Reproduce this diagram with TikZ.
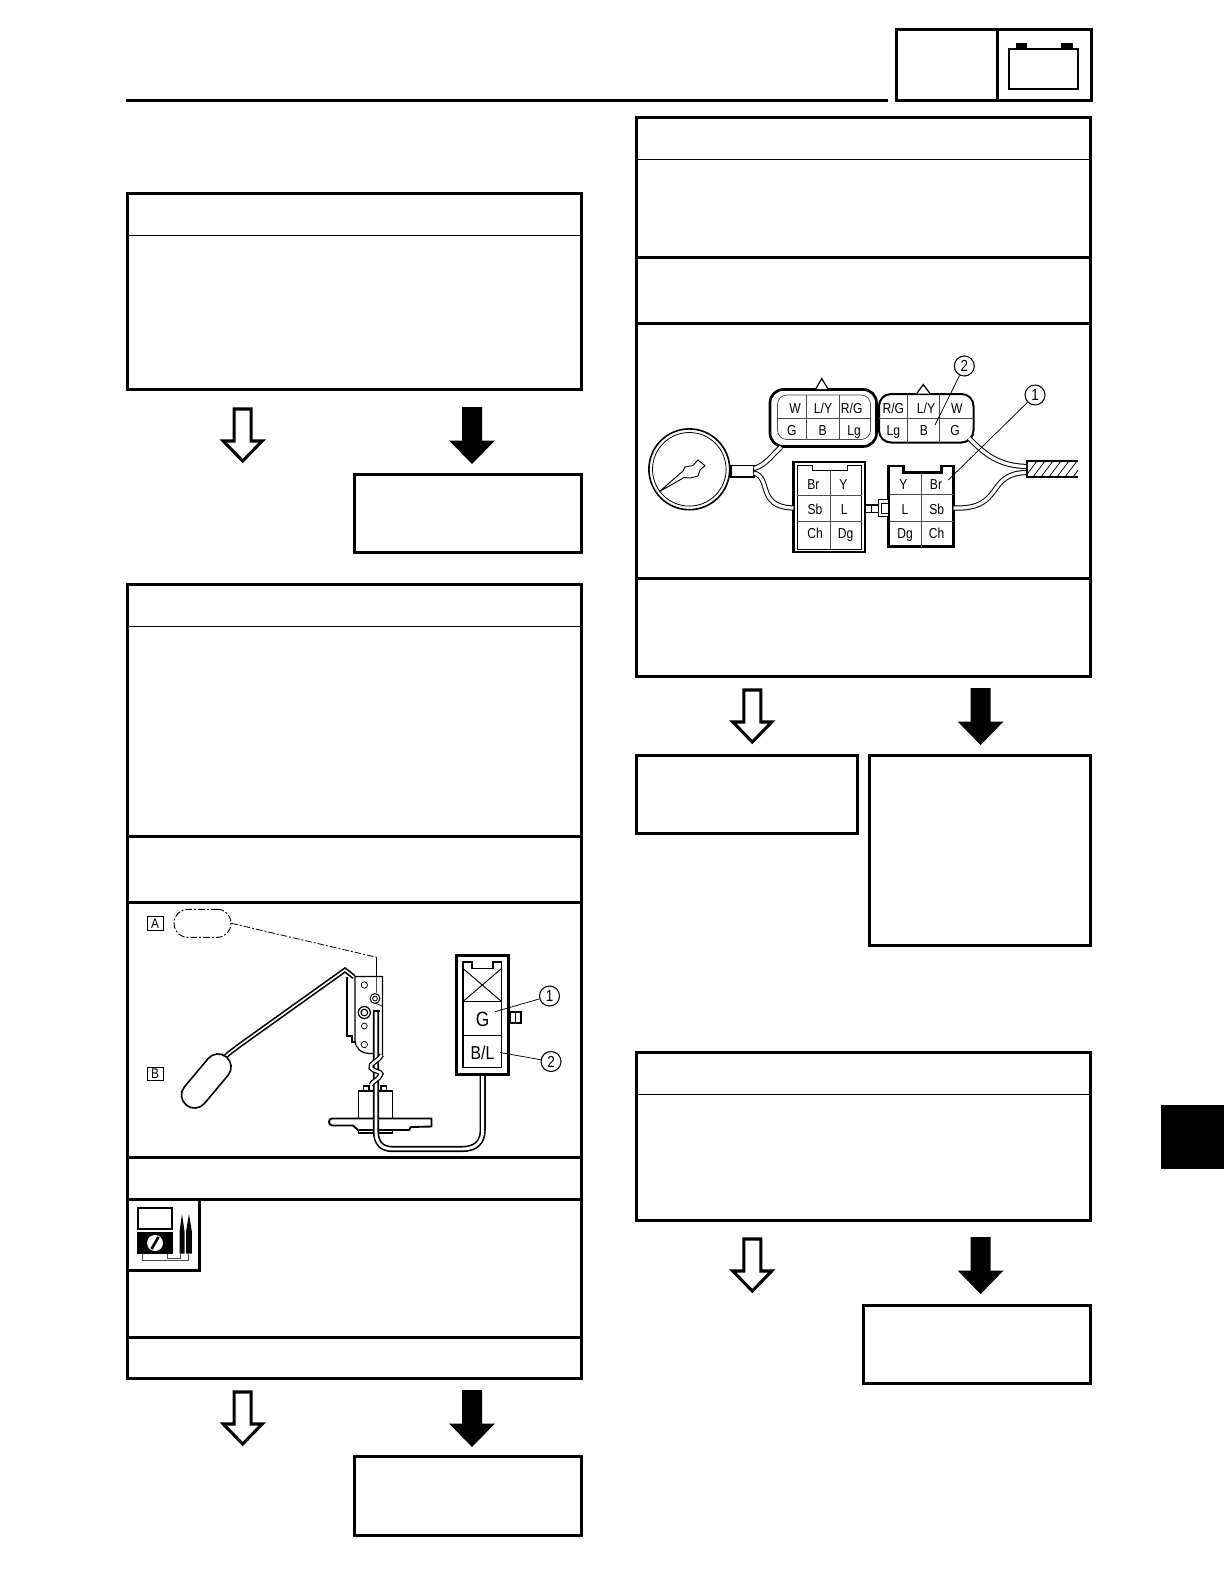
\documentclass[tikz,border=0pt]{standalone}
\usepackage{fontspec}
\setmainfont{Liberation Sans}
\newfontfamily\narrowfont[FakeStretch=0.84]{Liberation Sans}
\usetikzlibrary{patterns}
\tikzset{
  heavy/.style={draw=black,line width=2.25pt},
  flowbox/.style={draw=black,line width=2.25pt,fill=white,rectangle,inner sep=0pt,outer sep=0pt},
  rule/.style={draw=black,line width=2.25pt},
  hair/.style={draw=black,line width=0.7pt},
  grid/.style={draw=black!70,line width=0.55pt},
  part/.style={draw=black,line width=1.1pt,fill=white},
  fineline/.style={draw=black,line width=0.55pt},
  wire/.style={draw=black,line width=0.75pt,double=white,double distance=2.4pt},
  fatwire/.style={draw=black,line width=1.2pt,double=white,double distance=2.2pt},
  lbl/.style={inner sep=0pt,text height=7.7pt,text depth=0pt,font=\narrowfont\fontsize{10.8pt}{12pt}\selectfont},
  biglbl/.style={inner sep=0pt,text height=11pt,text depth=0pt,font=\narrowfont\fontsize{15.5pt}{17pt}\selectfont},
  midlbl/.style={inner sep=0pt,text height=10pt,text depth=0pt,font=\narrowfont\fontsize{14pt}{16pt}\selectfont},
  callout/.style={draw=black,line width=0.8pt,fill=white,circle,minimum size=15pt,inner sep=0pt,font=\narrowfont\fontsize{12pt}{13pt}\selectfont},
  tagbox/.style={draw=black,line width=0.7pt,minimum width=12pt,minimum height=10pt,inner sep=0pt,font=\narrowfont\fontsize{10.5pt}{11pt}\selectfont},
  whitearrow/.style={draw=black,line width=2.3pt,fill=white,miter limit=10},
  blackarrow/.style={fill=black},
}
% #1 name, #2 x1, #3 y1, #4 x2, #5 y2 in reference pixels
\newcommand{\flowrect}[5]{%
  \pgfmathsetmacro{\rw}{(#4-#2)*0.75}\pgfmathsetmacro{\rh}{(#5-#3)*0.75}%
  \pgfmathsetmacro{\rx}{(#2+#4)/2}\pgfmathsetmacro{\ry}{(#3+#5)/2}%
  \node[flowbox,minimum width=\rw pt,minimum height=\rh pt] (#1) at (\rx,\ry) {};}
\newcommand{\downwhite}[2]{%
  \draw[whitearrow] (#1-8.5,#2+2) -- (#1+8.5,#2+2) -- (#1+8.5,#2+34) -- (#1+19.5,#2+34) -- (#1,#2+54) -- (#1-19.5,#2+34) -- (#1-8.5,#2+34) -- cycle;}
\newcommand{\downblack}[2]{%
  \fill[blackarrow] (#1-10,#2) -- (#1+10,#2) -- (#1+10,#2+33.5) -- (#1+23,#2+33.5) -- (#1,#2+57) -- (#1-23,#2+33.5) -- (#1-10,#2+33.5) -- cycle;}
\begin{document}
\begin{tikzpicture}[x=0.75pt,y=-0.75pt]
\useasboundingbox (0,0) rectangle (1224,1584);
\fill[white] (0,0) rectangle (1224,1584);

% ---- header
\draw[rule] (126,100.5) -- (888,100.5);
\flowrect{hdr}{896}{30}{1091}{100.5}
\draw[rule] (997.5,30) -- (997.5,100.5);
\draw[draw=black,line width=1.5pt] (1009,49) rectangle (1078,89);
\fill (1016,43) rectangle (1027,49.5);
\fill (1061,43) rectangle (1073,49.5);
\fill (1161,1105) rectangle (1224,1169);

% ---- left column, first box
\flowrect{b1}{127}{193}{581}{389.5}
\draw[hair] (127,235.5) -- (581,235.5);
\downwhite{242.7}{407}
\downblack{472}{407}
\flowrect{b1r}{354.5}{474}{581}{552.5}

% ---- left column, second box
\flowrect{b2}{127}{584}{581}{1378}
\draw[hair] (127,626) -- (581,626);
\draw[rule] (127,836.5) -- (581,836.5);
\draw[rule] (127,902) -- (581,902);
\draw[rule] (127,1157) -- (581,1157);
\draw[rule] (127,1199.5) -- (581,1199.5);
\draw[rule] (127,1337) -- (581,1337);
\draw[rule] (127,1270) -- (199.5,1270) -- (199.5,1199.5);
\downwhite{242.7}{1390}
\downblack{472}{1390}
\flowrect{b2r}{354.5}{1456.5}{581}{1535}

% meter icon
\draw[draw=black,line width=1.6pt] (138,1208) rectangle (172,1229);
\fill (137,1231.5) rectangle (173,1253.5);
\fill[white] (155,1243) circle (6pt);
\draw[line width=2pt] (151.5,1249) -- (158.5,1237);
\draw[grid] (142.5,1253.5) -- (142.5,1260) -- (188.5,1260) -- (188.5,1253.5);
\draw[grid] (167,1253.5) -- (167,1258) -- (180,1258) -- (180,1253.5);
\fill (179.5,1253.5) -- (179.5,1231.5) -- (182,1214) -- (184.6,1231.5) -- (184.6,1253.5) -- cycle;
\fill (186,1253.5) -- (186,1231.5) -- (189,1214) -- (191.8,1231.5) -- (191.8,1253.5) -- cycle;

% fuel sender drawing
\node[tagbox] (tagA) at (155,923.5) {A};
\node[tagbox] (tagB) at (155,1074) {B};
\node[draw=black,line width=0.7pt,dash pattern=on 5pt off 1.5pt on 1.5pt off 1.5pt,rounded corners=10pt,minimum width=42.5pt,minimum height=21pt,inner sep=0pt] (pill) at (202.5,923.3) {};
\coordinate (leader) at (376.7,957.3);
\coordinate (leaderend) at (376.7,977);
\draw[draw=black,line width=0.6pt,dash pattern=on 5pt off 1.5pt on 1.5pt off 1.5pt] (pill.east) -- (leader);
\draw[fineline] (leader) -- (leaderend);
% bracket
\draw[part] (347,977) -- (347,1036) -- (352,1036) -- (352,1042) -- (356,1042) -- (356,977);
\draw[part,line width=0.9pt] (355,976.5) -- (382.5,976.5) -- (382.5,1056) -- (376,1053.5) -- (370,1053.5) .. controls (361,1053.5) and (355,1048) .. (355,1040) -- cycle;
\draw[grid,line width=1pt] (376.7,977) -- (376.7,993);
\draw[fineline] (375,1003) -- (382,1006);
\draw[fineline] (364.3,985) circle (2.4pt);
\draw[fineline] (364.3,1026) circle (2.2pt);
\draw[fineline] (364.3,1044.5) circle (2.4pt);
\draw[line width=0.9pt] (364.3,1012.5) circle (4.5pt);
\draw[line width=0.8pt] (364.3,1012.5) circle (2.5pt);
\draw[line width=0.7pt] (375,998.5) circle (3.7pt);
\draw[line width=0.6pt] (375,998.5) circle (1.8pt);
% float and rod
\draw[fatwire,line width=1.2pt,double distance=1.2pt] (225,1057) .. controls (230,1052) and (235,1049) .. (240,1045) -- (345,970) -- (354,977);
\node[draw=black,fill=white,line width=1.2pt,rounded corners=9.7pt,minimum width=47pt,minimum height=19.5pt,inner sep=0pt,rotate=50] (float) at (206.3,1081) {};
% pump
\draw[part,line width=0.8pt] (363.5,1086) rectangle (369,1092);
\draw[part,line width=0.8pt] (381,1086) rectangle (386.5,1092);
\draw[part] (358.5,1091) rectangle (392.5,1133);
\draw[part,line width=1.4pt] (431.5,1118.5) -- (332,1118.5) .. controls (328,1118.5) and (328,1125) .. (332,1125.5) -- (353,1125.5) -- (358,1130) -- (409,1130) -- (411,1127) -- (431.5,1126.5) -- cycle;
% cable
\coordinate (cabTop) at (376,1011);
\coordinate (cabLow) at (376,1132);
\coordinate (cabMid) at (392,1149);
\coordinate (cabMid2) at (462,1149);
\coordinate (cabRise) at (482.7,1130);
\coordinate (conBot) at (482.7,1074);
\draw[fatwire,line cap=butt] (cabTop) -- (cabLow) .. controls (376,1143) and (382,1149) .. (cabMid) -- (cabMid2) .. controls (476,1149) and (482.7,1142) .. (cabRise) -- (conBot);
\draw[line width=1.2pt] (372.5,1011) -- (379.5,1011);
\draw[fatwire,line width=1pt,double distance=1.8pt] (381.5,1055) .. controls (378,1062) and (369,1063) .. (371,1068) .. controls (374,1072) and (381,1071) .. (381,1074) .. controls (378,1081) and (372,1081) .. (371,1085);
% connector drawing
\flowrect{cG}{456.5}{955}{508.5}{1074}
\draw[draw=black,line width=0.9pt] (463,962) -- (472,962) -- (472,968.5) -- (493,968.5) -- (493,962) -- (501.5,962) -- (501.5,1067.5) -- (463,1067.5) -- cycle;
\draw[hair] (463,968.5) -- (501.5,1001.5);
\draw[hair] (501.5,968.5) -- (463,1001.5);
\draw[hair] (463,1001.5) -- (501.5,1001.5);
\draw[hair] (463,1035) -- (501.5,1035);
\draw[part,line width=0.9pt] (510,1012) rectangle (521,1023);
\draw[fineline] (515,1012) -- (515,1023);
\node[biglbl] (gG) at (482.7,1019.5) {G};
\node[midlbl] (gBL) at (482.5,1052.5) {B/L};
\coordinate (ptG) at (495,1011.7);
\coordinate (ptBL) at (500,1052.5);
\node[callout] (n1) at (549.5,996) {1};
\node[callout] (n2) at (551,1061.5) {2};
\draw[fineline] (n1) -- (ptG);
\draw[fineline] (n2) -- (ptBL);

% ---- right column, top box
\flowrect{b3}{636}{118}{1090.5}{676}
\draw[hair] (636,159) -- (1090.5,159);
\draw[rule] (636,257) -- (1090.5,257);
\draw[rule] (636,323) -- (1090.5,323);
\draw[rule] (636,578) -- (1090.5,578);
\downwhite{752.3}{688}
\downblack{980.6}{688}
\flowrect{b3l}{636}{755}{857.5}{833.5}
\flowrect{b3r}{869.5}{755}{1090.5}{945.5}

% gauge
\draw[part,line width=1.3pt] (731,465.5) rectangle (754,477);
\draw[draw=black,line width=1.2pt,fill=white] (689.3,469.3) circle (30.3pt);
\draw[draw=black,line width=0.6pt] (689.3,469.3) circle (27.6pt);
\draw[part,line width=0.7pt] (659.3,491.7) -- (683,471) -- (685,467) -- (693,465.5) -- (698,460) -- (705,465.7) -- (700,470) -- (698,476) -- (690,478) -- (684,477.5) -- cycle;
% loom
\draw[part,line width=2pt,rounded corners=10pt] (770,389.5) rectangle (876.5,446.5);
\draw[grid,rounded corners=7pt] (777.5,395) rectangle (870.5,439.5);
\draw[grid] (777.5,418.3) -- (870.5,418.3);
\draw[grid] (806.7,395) -- (806.7,439.5);
\draw[grid] (839.3,395) -- (839.3,439.5);
\draw[part,line width=0.9pt] (815.7,389) -- (821.7,378.5) -- (828,389);
\node[lbl] (l1) at (795,408.3) {W};
\node[lbl] (l2) at (823,408.3) {L/Y};
\node[lbl] (l3) at (851.7,408.3) {R/G};
\node[lbl] (l4) at (791.7,430.7) {G};
\node[lbl] (l5) at (822.7,430.7) {B};
\node[lbl] (l6) at (854,430.7) {Lg};
\draw[part,line width=1.5pt,rounded corners=9pt] (879,394) rectangle (973.5,442.5);
\draw[grid] (879,418.3) -- (973.5,418.3);
\draw[grid] (907.7,394) -- (907.7,442.5);
\draw[grid] (939.3,394) -- (939.3,442.5);
\draw[part,line width=0.9pt] (916.7,393.5) -- (923.3,384.5) -- (930,393.5);
\node[lbl] (r1) at (893.3,408.3) {R/G};
\node[lbl] (r2) at (926,408.3) {L/Y};
\node[lbl] (r3) at (956.7,408.3) {W};
\node[lbl] (r4) at (893.3,430.7) {Lg};
\node[lbl] (r5) at (924,430.7) {B};
\node[lbl] (r6) at (955,430.7) {G};
% sockets
\draw[draw=black,line width=1.6pt,fill=white] (793.5,462) rectangle (865,552);
\draw[draw=black,line width=0.7pt] (797,465) -- (812,465) -- (812,470) -- (847,470) -- (847,465) -- (861.5,465) -- (861.5,549) -- (797,549) -- cycle;
\draw[grid] (830,470) -- (830,549);
\draw[grid] (797,495) -- (861.5,495);
\draw[grid] (797,521.5) -- (861.5,521.5);
\node[lbl] (s1) at (813.3,484) {Br};
\node[lbl] (s2) at (843.3,484) {Y};
\node[lbl] (s3) at (815,509) {Sb};
\node[lbl] (s4) at (844.3,509) {L};
\node[lbl] (s5) at (815,533.3) {Ch};
\node[lbl] (s6) at (845.7,533.3) {Dg};
\draw[draw=black,line width=1.6pt,fill=white] (888.5,466) -- (903.5,466) -- (903.5,472.5) -- (941.5,472.5) -- (941.5,466) -- (953.5,466) -- (953.5,546.5) -- (888.5,546.5) -- cycle;
\draw[grid] (921,472.5) -- (921,546.5);
\draw[grid] (888.5,494.5) -- (953.5,494.5);
\draw[grid] (888.5,521) -- (953.5,521);
\node[lbl] (t1) at (903.3,484) {Y};
\node[lbl] (t2) at (936,484) {Br};
\node[lbl] (t3) at (905,509) {L};
\node[lbl] (t4) at (936.7,509) {Sb};
\node[lbl] (t5) at (905,533.3) {Dg};
\node[lbl] (t6) at (936.7,533.3) {Ch};
% plug between sockets
\draw[draw=black,line width=1pt] (865,505) -- (878.5,505);
\draw[draw=black,line width=1pt] (865,512.5) -- (878.5,512.5);
\draw[draw=black,line width=0.7pt] (871,505) -- (871,512.5);
\draw[part,line width=0.9pt] (878.5,499.5) rectangle (888.5,516.5);
\draw[draw=black,line width=0.7pt] (888.5,503) -- (881,503) -- (881,513) -- (888.5,513);
% wires
\coordinate (bigLow) at (781,447);
\coordinate (sockL) at (793.5,508);
\coordinate (sockR) at (953.5,508);
\coordinate (smallLow) at (969,438);
\coordinate (cabA) at (1027,466.5);
\coordinate (cabB) at (1027,472.5);
\draw[wire] (754,468.5) .. controls (766,465) and (772,455) .. (bigLow);
\draw[wire] (754,473) .. controls (772,478) and (756,507) .. (sockL);
\draw[wire] (smallLow) .. controls (985,455) and (1000,466) .. (cabA);
\draw[wire] (sockR) .. controls (1005,510) and (985,473) .. (cabB);
% hatched cable
\begin{scope}
\clip (1027,461) rectangle (1078,477);
\foreach \hx in {1025,1033,...,1081} {\draw[fineline] (\hx,477) -- (\hx+12,461);}
\end{scope}
\draw[draw=black,line width=1.2pt] (1078,461) -- (1027,461) -- (1027,477) -- (1078,477);
% callouts
\coordinate (ptB) at (935,425);
\coordinate (ptBr) at (948.3,480);
\node[callout] (m2) at (964.3,366) {2};
\node[callout] (m1) at (1035,395) {1};
\draw[fineline] (m2) -- (ptB);
\draw[fineline] (m1) -- (ptBr);

% ---- right column, bottom box
\flowrect{b4}{636}{1052}{1090.5}{1220}
\draw[hair] (636,1094) -- (1090.5,1094);
\downwhite{752.3}{1237}
\downblack{980.6}{1237}
\flowrect{b4r}{863.5}{1305.5}{1090.5}{1383}
\end{tikzpicture}
\end{document}
